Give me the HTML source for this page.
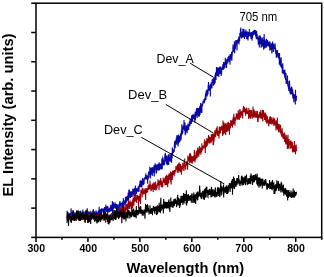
<!DOCTYPE html>
<html><head><meta charset="utf-8"><style>
html,body{margin:0;padding:0;background:#fff;}
svg{display:block;will-change:transform;}
text{font-family:"Liberation Sans",sans-serif;fill:#000;}
.tl{font-size:10.6px;font-weight:bold;}
.an{font-size:12.2px;}
.ax{font-size:14px;font-weight:bold;}
</style></head><body>
<svg width="324" height="277" viewBox="0 0 324 277">
<rect width="324" height="277" fill="#fff"/>
<g fill="none" stroke-linejoin="miter">
<polyline points="67.00,216.4 67.17,217.6 67.33,216.4 67.50,212.3 67.67,217.8 67.83,216.6 68.00,214.1 68.17,216.9 68.33,216.3 68.50,216.1 68.67,215.4 68.83,216.7 69.00,213.4 69.17,214.8 69.33,214.0 69.50,216.7 69.67,215.3 69.83,214.4 70.00,213.2 70.17,214.5 70.33,215.1 70.50,214.4 70.67,218.3 70.83,217.6 71.00,208.3 71.17,210.3 71.33,214.6 71.50,214.0 71.67,215.5 71.83,215.5 72.00,220.2 72.17,212.1 72.33,213.9 72.50,220.0 72.67,216.5 72.83,216.5 73.00,213.5 73.17,210.7 73.33,215.2 73.50,215.1 73.67,211.7 73.83,213.1 74.00,214.6 74.17,212.4 74.33,214.6 74.50,215.0 74.67,214.9 74.83,213.5 75.00,216.3 75.17,217.0 75.33,215.5 75.50,212.7 75.67,216.5 75.83,213.4 76.00,216.8 76.17,211.9 76.33,216.8 76.50,214.4 76.67,211.3 76.83,213.6 77.00,214.5 77.17,215.0 77.33,211.9 77.50,211.6 77.67,214.9 77.83,213.2 78.00,215.0 78.17,216.4 78.33,210.4 78.50,215.2 78.67,217.7 78.83,214.0 79.00,212.7 79.17,216.7 79.33,215.5 79.50,217.1 79.67,214.0 79.83,211.1 80.00,214.6 80.17,213.7 80.33,216.7 80.50,215.2 80.67,210.7 80.83,211.7 81.00,216.9 81.17,216.4 81.33,213.1 81.50,214.7 81.67,215.8 81.83,215.9 82.00,217.0 82.17,215.5 82.33,214.6 82.50,214.3 82.67,217.7 82.83,209.5 83.00,214.8 83.17,215.3 83.33,211.7 83.50,216.2 83.67,213.7 83.83,217.6 84.00,215.1 84.17,217.1 84.33,218.5 84.50,216.4 84.67,213.2 84.83,211.5 85.00,219.6 85.17,214.9 85.33,213.4 85.50,215.4 85.67,214.5 85.83,217.1 86.00,215.0 86.17,214.8 86.33,213.0 86.50,215.9 86.67,212.0 86.83,216.2 87.00,218.3 87.17,210.6 87.33,208.2 87.50,215.9 87.67,220.6 87.83,211.7 88.00,211.0 88.17,215.6 88.33,212.0 88.50,212.8 88.67,213.1 88.83,215.3 89.00,213.0 89.17,214.7 89.33,213.6 89.50,212.0 89.67,213.3 89.83,211.8 90.00,214.2 90.17,211.5 90.33,211.6 90.50,218.0 90.67,214.3 90.83,214.4 91.00,215.8 91.17,213.5 91.33,214.0 91.50,215.7 91.67,215.3 91.83,211.7 92.00,216.7 92.17,213.1 92.33,211.9 92.50,212.3 92.67,213.6 92.83,218.6 93.00,211.6 93.17,214.9 93.33,209.1 93.50,214.5 93.67,216.7 93.83,213.9 94.00,212.9 94.17,215.0 94.33,216.2 94.50,216.1 94.67,219.3 94.83,214.9 95.00,212.9 95.17,214.1 95.33,214.2 95.50,214.7 95.67,214.4 95.83,214.9 96.00,210.3 96.17,216.7 96.33,213.2 96.50,211.7 96.67,216.3 96.83,218.1 97.00,216.0 97.17,215.2 97.33,212.4 97.50,222.1 97.67,217.0 97.83,211.8 98.00,212.7 98.17,214.8 98.33,210.5 98.50,214.8 98.67,213.0 98.83,217.2 99.00,216.4 99.17,206.8 99.33,213.6 99.50,209.2 99.67,216.0 99.83,213.3 100.00,214.1 100.17,209.8 100.33,217.1 100.50,217.4 100.67,209.3 100.83,212.9 101.00,210.0 101.17,211.6 101.33,208.3 101.50,216.4 101.67,209.0 101.83,210.7 102.00,212.7 102.17,209.7 102.33,210.8 102.50,209.9 102.67,211.0 102.83,208.2 103.00,210.1 103.17,210.7 103.33,210.3 103.50,211.3 103.67,210.3 103.83,213.0 104.00,210.0 104.17,210.4 104.33,208.9 104.50,209.2 104.67,207.1 104.83,211.8 105.00,207.2 105.17,208.2 105.33,211.1 105.50,211.1 105.67,208.9 105.83,204.5 106.00,211.0 106.17,210.6 106.33,206.2 106.50,212.1 106.67,208.2 106.83,207.1 107.00,210.5 107.17,209.8 107.33,210.9 107.50,206.1 107.67,215.5 107.83,209.0 108.00,206.5 108.17,212.4 108.33,209.8 108.50,211.6 108.67,209.8 108.83,210.5 109.00,211.3 109.17,208.5 109.33,212.3 109.50,209.1 109.67,207.9 109.83,210.4 110.00,211.3 110.17,209.3 110.33,207.4 110.50,211.4 110.67,204.7 110.83,206.5 111.00,209.3 111.17,205.3 111.33,209.0 111.50,208.6 111.67,211.1 111.83,205.9 112.00,206.5 112.17,209.0 112.33,201.1 112.50,216.4 112.67,205.7 112.83,205.5 113.00,209.8 113.17,207.2 113.33,202.2 113.50,208.8 113.67,209.3 113.83,205.5 114.00,205.9 114.17,207.9 114.33,203.9 114.50,207.6 114.67,206.8 114.83,204.3 115.00,202.2 115.17,205.4 115.33,203.5 115.50,208.8 115.67,206.3 115.83,208.1 116.00,206.3 116.17,206.7 116.33,203.8 116.50,208.0 116.67,211.2 116.83,205.3 117.00,204.6 117.17,205.9 117.33,205.0 117.50,204.5 117.67,206.9 117.83,205.7 118.00,210.7 118.17,206.6 118.33,207.5 118.50,209.3 118.67,205.6 118.83,210.5 119.00,204.5 119.17,203.9 119.33,205.1 119.50,205.7 119.67,201.9 119.83,205.8 120.00,201.0 120.17,209.8 120.33,205.5 120.50,203.9 120.67,203.1 120.83,204.6 121.00,205.1 121.17,202.7 121.33,203.1 121.50,205.2 121.67,204.2 121.83,208.5 122.00,209.0 122.17,205.7 122.33,207.0 122.50,201.6 122.67,207.2 122.83,205.2 123.00,206.5 123.17,209.6 123.33,198.1 123.50,205.3 123.67,201.2 123.83,205.9 124.00,200.2 124.17,202.3 124.33,204.1 124.50,205.1 124.67,203.3 124.83,200.5 125.00,200.9 125.17,204.8 125.33,201.9 125.50,196.7 125.67,203.7 125.83,202.1 126.00,203.1 126.17,199.3 126.33,202.3 126.50,196.5 126.67,200.9 126.83,197.5 127.00,200.5 127.17,201.1 127.33,195.7 127.50,197.4 127.67,197.3 127.83,200.3 128.00,198.6 128.17,192.6 128.33,197.2 128.50,197.7 128.67,201.4 128.83,190.1 129.00,193.1 129.17,198.3 129.33,190.3 129.50,190.6 129.67,195.4 129.83,196.7 130.00,191.8 130.17,195.2 130.33,194.0 130.50,198.0 130.67,193.6 130.83,196.5 131.00,191.0 131.17,193.1 131.33,193.4 131.50,197.0 131.67,195.4 131.83,191.5 132.00,195.6 132.17,195.9 132.33,193.3 132.50,192.8 132.67,192.9 132.83,188.5 133.00,193.9 133.17,194.0 133.33,190.7 133.50,195.3 133.67,189.1 133.83,191.4 134.00,191.6 134.17,198.7 134.33,188.2 134.50,194.4 134.67,195.4 134.83,193.6 135.00,195.8 135.17,189.4 135.33,185.5 135.50,194.2 135.67,188.3 135.83,190.7 136.00,188.0 136.17,194.3 136.33,193.5 136.50,188.7 136.67,193.2 136.83,190.7 137.00,189.7 137.17,190.0 137.33,189.0 137.50,191.1 137.67,190.0 137.83,187.8 138.00,191.5 138.17,186.5 138.33,188.9 138.50,189.0 138.67,191.8 138.83,185.7 139.00,192.0 139.17,187.1 139.33,185.7 139.50,184.0 139.67,187.3 139.83,185.4 140.00,181.7 140.17,181.3 140.33,182.5 140.50,181.8 140.67,186.6 140.83,187.0 141.00,185.2 141.17,183.4 141.33,180.8 141.50,181.9 141.67,184.1 141.83,187.5 142.00,183.7 142.17,180.0 142.33,180.8 142.50,179.1 142.67,178.1 142.83,179.7 143.00,180.6 143.17,185.3 143.33,179.9 143.50,183.6 143.67,184.6 143.83,179.6 144.00,183.9 144.17,181.1 144.33,177.7 144.50,179.5 144.67,178.6 144.83,177.7 145.00,177.7 145.17,178.6 145.33,179.3 145.50,175.3 145.67,177.8 145.83,173.2 146.00,178.4 146.17,179.3 146.33,177.9 146.50,178.1 146.67,178.9 146.83,175.2 147.00,176.3 147.17,178.4 147.33,179.6 147.50,177.7 147.67,183.8 147.83,175.9 148.00,178.9 148.17,179.4 148.33,175.1 148.50,172.8 148.67,171.5 148.83,175.1 149.00,177.6 149.17,174.8 149.33,174.2 149.50,172.3 149.67,174.8 149.83,166.7 150.00,173.3 150.17,172.5 150.33,168.2 150.50,178.4 150.67,167.8 150.83,168.6 151.00,168.1 151.17,174.8 151.33,168.8 151.50,173.3 151.67,173.0 151.83,172.0 152.00,167.3 152.17,169.3 152.33,175.9 152.50,167.2 152.67,168.4 152.83,170.3 153.00,173.0 153.17,171.3 153.33,172.6 153.50,167.2 153.67,173.0 153.83,171.7 154.00,165.3 154.17,174.3 154.33,176.4 154.50,167.3 154.67,169.6 154.83,173.4 155.00,164.8 155.17,163.2 155.33,165.1 155.50,167.1 155.67,166.9 155.83,170.2 156.00,169.1 156.17,164.5 156.33,169.7 156.50,173.4 156.67,171.3 156.83,170.5 157.00,167.6 157.17,170.3 157.33,164.5 157.50,169.4 157.67,166.9 157.83,170.3 158.00,168.3 158.17,163.7 158.33,167.3 158.50,170.4 158.67,163.5 158.83,165.1 159.00,164.5 159.17,162.3 159.33,169.4 159.50,170.3 159.67,168.7 159.83,166.9 160.00,165.9 160.17,166.6 160.33,163.6 160.50,168.1 160.67,168.4 160.83,167.8 161.00,163.4 161.17,164.9 161.33,164.0 161.50,169.6 161.67,164.7 161.83,158.5 162.00,165.1 162.17,169.3 162.33,165.7 162.50,166.1 162.67,163.6 162.83,157.6 163.00,157.9 163.17,159.5 163.33,162.7 163.50,163.9 163.67,164.9 163.83,161.8 164.00,165.5 164.17,161.7 164.33,160.4 164.50,164.8 164.67,159.6 164.83,154.2 165.00,158.9 165.17,162.2 165.33,152.7 165.50,160.6 165.67,160.5 165.83,157.1 166.00,156.8 166.17,159.6 166.33,159.1 166.50,164.2 166.67,161.5 166.83,155.6 167.00,157.5 167.17,161.9 167.33,165.3 167.50,160.7 167.67,160.3 167.83,164.7 168.00,159.1 168.17,158.1 168.33,154.8 168.50,157.3 168.67,165.0 168.83,154.3 169.00,158.4 169.17,154.1 169.33,158.4 169.50,160.4 169.67,156.9 169.83,159.5 170.00,159.2 170.17,158.2 170.33,161.6 170.50,158.6 170.67,155.2 170.83,153.8 171.00,153.1 171.17,156.7 171.33,154.1 171.50,162.7 171.67,159.8 171.83,153.5 172.00,152.8 172.17,158.4 172.33,147.6 172.50,151.5 172.67,155.2 172.83,149.4 173.00,150.3 173.17,150.3 173.33,152.9 173.50,150.9 173.67,151.3 173.83,151.4 174.00,149.3 174.17,152.0 174.33,146.0 174.50,143.4 174.67,141.8 174.83,141.6 175.00,144.1 175.17,148.2 175.33,145.1 175.50,142.2 175.67,140.3 175.83,141.5 176.00,141.5 176.17,140.7 176.33,137.9 176.50,140.5 176.67,144.8 176.83,135.3 177.00,140.9 177.17,135.3 177.33,142.0 177.50,139.2 177.67,135.2 177.83,141.6 178.00,146.6 178.17,141.5 178.33,144.5 178.50,140.8 178.67,134.5 178.83,142.1 179.00,139.3 179.17,136.0 179.33,142.4 179.50,140.7 179.67,138.0 179.83,141.7 180.00,136.1 180.17,140.0 180.33,134.9 180.50,138.7 180.67,133.3 180.83,140.4 181.00,136.3 181.17,139.2 181.33,132.0 181.50,132.3 181.67,135.5 181.83,124.3 182.00,128.7 182.17,134.3 182.33,132.3 182.50,133.7 182.67,129.9 182.83,132.4 183.00,128.6 183.17,126.7 183.33,125.7 183.50,129.0 183.67,128.9 183.83,128.6 184.00,119.9 184.17,124.3 184.33,128.4 184.50,130.7 184.67,128.0 184.83,127.0 185.00,122.6 185.17,135.2 185.33,125.9 185.50,134.0 185.67,133.5 185.83,129.6 186.00,127.1 186.17,129.1 186.33,125.2 186.50,129.3 186.67,128.4 186.83,129.9 187.00,131.0 187.17,133.2 187.33,126.9 187.50,130.9 187.67,125.3 187.83,124.8 188.00,125.4 188.17,124.1 188.33,129.7 188.50,129.2 188.67,130.0 188.83,125.9 189.00,126.5 189.17,123.7 189.33,121.8 189.50,126.2 189.67,125.4 189.83,121.0 190.00,125.7 190.17,118.5 190.33,122.7 190.50,121.0 190.67,120.7 190.83,118.6 191.00,124.0 191.17,122.4 191.33,123.7 191.50,120.1 191.67,115.5 191.83,117.8 192.00,115.1 192.17,119.7 192.33,121.8 192.50,119.1 192.67,116.3 192.83,116.9 193.00,118.6 193.17,113.7 193.33,118.4 193.50,118.5 193.67,116.3 193.83,116.6 194.00,118.3 194.17,115.4 194.33,115.3 194.50,120.0 194.67,118.2 194.83,122.4 195.00,114.4 195.17,111.9 195.33,119.7 195.50,119.5 195.67,114.3 195.83,111.8 196.00,115.7 196.17,110.4 196.33,114.2 196.50,108.5 196.67,113.8 196.83,108.0 197.00,113.2 197.17,118.1 197.33,112.5 197.50,115.3 197.67,110.9 197.83,109.9 198.00,107.9 198.17,115.1 198.33,111.7 198.50,116.5 198.67,108.1 198.83,110.8 199.00,111.6 199.17,115.5 199.33,116.6 199.50,109.3 199.67,107.8 199.83,105.9 200.00,114.9 200.17,110.6 200.33,108.8 200.50,110.4 200.67,102.9 200.83,105.1 201.00,112.7 201.17,110.8 201.33,109.7 201.50,105.8 201.67,109.9 201.83,112.9 202.00,103.4 202.17,106.4 202.33,104.4 202.50,106.1 202.67,104.5 202.83,103.5 203.00,100.8 203.17,102.9 203.33,100.7 203.50,101.6 203.67,101.5 203.83,103.2 204.00,99.1 204.17,99.5 204.33,103.2 204.50,99.0 204.67,98.4 204.83,101.3 205.00,99.1 205.17,98.1 205.33,98.1 205.50,93.3 205.67,97.9 205.83,100.0 206.00,97.3 206.17,90.6 206.33,95.6 206.50,91.6 206.67,93.2 206.83,93.8 207.00,89.5 207.17,96.4 207.33,91.8 207.50,93.8 207.67,92.8 207.83,94.4 208.00,93.4 208.17,85.0 208.33,89.0 208.50,82.0 208.67,86.6 208.83,89.6 209.00,89.8 209.17,90.6 209.33,85.4 209.50,87.2 209.67,86.3 209.83,89.5 210.00,90.3 210.17,84.4 210.33,96.4 210.50,85.1 210.67,83.8 210.83,86.5 211.00,86.8 211.17,86.0 211.33,82.3 211.50,88.5 211.67,84.1 211.83,88.3 212.00,87.7 212.17,79.6 212.33,80.3 212.50,80.0 212.67,83.5 212.83,82.7 213.00,83.1 213.17,79.7 213.33,83.1 213.50,85.8 213.67,77.4 213.83,80.5 214.00,81.5 214.17,79.9 214.33,79.2 214.50,84.4 214.67,82.3 214.83,80.3 215.00,74.8 215.17,82.9 215.33,76.7 215.50,73.3 215.67,73.5 215.83,72.7 216.00,80.1 216.17,74.3 216.33,73.7 216.50,67.1 216.67,75.5 216.83,70.1 217.00,69.8 217.17,74.8 217.33,70.4 217.50,75.3 217.67,76.0 217.83,67.3 218.00,72.1 218.17,67.7 218.33,72.0 218.50,74.7 218.67,67.7 218.83,76.9 219.00,70.4 219.17,67.6 219.33,70.5 219.50,73.0 219.67,66.5 219.83,70.5 220.00,66.4 220.17,74.0 220.33,70.9 220.50,69.2 220.67,73.5 220.83,66.7 221.00,69.3 221.17,75.9 221.33,70.0 221.50,74.3 221.67,70.8 221.83,68.0 222.00,69.2 222.17,70.0 222.33,68.3 222.50,66.8 222.67,66.7 222.83,64.3 223.00,68.6 223.17,69.1 223.33,69.8 223.50,61.9 223.67,69.2 223.83,66.5 224.00,61.9 224.17,66.2 224.33,68.0 224.50,66.9 224.67,67.2 224.83,67.6 225.00,67.2 225.17,64.1 225.33,57.8 225.50,61.5 225.67,64.5 225.83,61.8 226.00,65.0 226.17,65.1 226.33,62.7 226.50,67.9 226.67,59.2 226.83,64.6 227.00,60.2 227.17,59.1 227.33,63.0 227.50,59.2 227.67,63.4 227.83,57.2 228.00,60.5 228.17,57.7 228.33,59.4 228.50,58.8 228.67,56.3 228.83,61.4 229.00,55.6 229.17,56.2 229.33,61.5 229.50,61.6 229.67,60.4 229.83,59.2 230.00,64.7 230.17,54.2 230.33,55.3 230.50,54.2 230.67,59.5 230.83,57.4 231.00,59.5 231.17,58.8 231.33,54.8 231.50,52.7 231.67,51.8 231.83,60.8 232.00,56.7 232.17,55.2 232.33,52.0 232.50,52.0 232.67,51.2 232.83,50.9 233.00,44.4 233.17,50.9 233.33,49.6 233.50,51.3 233.67,50.7 233.83,52.3 234.00,49.4 234.17,51.5 234.33,41.2 234.50,45.2 234.67,53.2 234.83,44.2 235.00,46.6 235.17,49.2 235.33,44.1 235.50,48.5 235.67,41.8 235.83,40.0 236.00,41.3 236.17,40.0 236.33,44.4 236.50,43.2 236.67,44.7 236.83,40.3 237.00,50.5 237.17,42.3 237.33,42.0 237.50,43.2 237.67,40.7 237.83,39.2 238.00,41.0 238.17,43.1 238.33,42.0 238.50,42.5 238.67,37.7 238.83,36.7 239.00,44.6 239.17,37.6 239.33,39.4 239.50,39.9 239.67,41.6 239.83,33.1 240.00,35.4 240.17,35.3 240.33,35.5 240.50,29.1 240.67,35.9 240.83,27.5 241.00,36.9 241.17,37.6 241.33,37.7 241.50,32.3 241.67,38.6 241.83,33.1 242.00,31.9 242.17,32.5 242.33,32.7 242.50,35.6 242.67,37.5 242.83,28.7 243.00,33.2 243.17,37.4 243.33,35.1 243.50,35.9 243.67,29.7 243.83,36.8 244.00,29.1 244.17,34.2 244.33,37.5 244.50,38.9 244.67,34.8 244.83,35.8 245.00,31.4 245.17,31.9 245.33,36.9 245.50,33.5 245.67,33.3 245.83,29.6 246.00,34.4 246.17,36.0 246.33,31.9 246.50,32.9 246.67,39.2 246.83,35.1 247.00,33.9 247.17,31.4 247.33,33.0 247.50,34.2 247.67,39.1 247.83,33.2 248.00,40.4 248.17,32.3 248.33,33.9 248.50,37.3 248.67,34.0 248.83,32.1 249.00,34.0 249.17,35.6 249.33,29.1 249.50,33.4 249.67,33.8 249.83,32.9 250.00,36.3 250.17,32.6 250.33,33.3 250.50,34.5 250.67,36.7 250.83,33.9 251.00,39.1 251.17,32.0 251.33,38.5 251.50,32.1 251.67,34.2 251.83,35.7 252.00,40.6 252.17,37.0 252.33,33.0 252.50,37.9 252.67,33.1 252.83,31.1 253.00,34.6 253.17,33.2 253.33,35.5 253.50,30.8 253.67,33.3 253.83,33.9 254.00,32.7 254.17,31.7 254.33,29.7 254.50,34.6 254.67,32.5 254.83,33.8 255.00,31.5 255.17,32.9 255.33,30.1 255.50,33.8 255.67,36.2 255.83,34.5 256.00,37.1 256.17,35.7 256.33,39.1 256.50,34.8 256.67,30.8 256.83,37.3 257.00,35.9 257.17,33.9 257.33,39.1 257.50,38.3 257.67,39.3 257.83,37.3 258.00,39.3 258.17,39.8 258.33,44.7 258.50,37.7 258.67,40.0 258.83,41.4 259.00,35.4 259.17,36.0 259.33,47.4 259.50,35.9 259.67,43.0 259.83,38.9 260.00,39.2 260.17,35.6 260.33,38.9 260.50,44.0 260.67,37.5 260.83,43.5 261.00,42.7 261.17,47.8 261.33,40.5 261.50,45.7 261.67,44.6 261.83,41.2 262.00,37.2 262.17,46.7 262.33,38.1 262.50,40.8 262.67,44.9 262.83,45.6 263.00,39.8 263.17,42.3 263.33,41.6 263.50,45.9 263.67,49.8 263.83,36.9 264.00,45.1 264.17,33.9 264.33,42.5 264.50,39.2 264.67,48.5 264.83,43.1 265.00,40.5 265.17,41.3 265.33,41.2 265.50,43.6 265.67,42.7 265.83,45.2 266.00,48.0 266.17,45.6 266.33,39.9 266.50,38.8 266.67,41.5 266.83,47.0 267.00,43.0 267.17,42.1 267.33,44.6 267.50,40.0 267.67,40.9 267.83,46.0 268.00,43.6 268.17,43.3 268.33,45.7 268.50,43.0 268.67,42.8 268.83,43.5 269.00,46.7 269.17,45.1 269.33,41.4 269.50,44.1 269.67,47.0 269.83,50.7 270.00,41.7 270.17,46.2 270.33,44.5 270.50,47.8 270.67,46.8 270.83,50.0 271.00,47.2 271.17,44.2 271.33,44.3 271.50,47.2 271.67,47.3 271.83,53.4 272.00,51.4 272.17,43.0 272.33,47.6 272.50,42.6 272.67,41.7 272.83,49.0 273.00,48.5 273.17,43.8 273.33,51.9 273.50,44.1 273.67,43.7 273.83,49.3 274.00,48.2 274.17,47.2 274.33,47.7 274.50,48.8 274.67,48.0 274.83,48.2 275.00,43.4 275.17,45.4 275.33,51.5 275.50,47.9 275.67,52.0 275.83,54.3 276.00,49.9 276.17,52.1 276.33,57.7 276.50,53.9 276.67,57.6 276.83,56.9 277.00,54.9 277.17,52.5 277.33,50.6 277.50,50.1 277.67,55.2 277.83,55.4 278.00,53.8 278.17,57.1 278.33,53.1 278.50,58.6 278.67,55.8 278.83,55.9 279.00,56.4 279.17,56.5 279.33,64.8 279.50,53.1 279.67,59.0 279.83,62.9 280.00,62.0 280.17,59.6 280.33,66.4 280.50,58.7 280.67,58.6 280.83,64.9 281.00,59.4 281.17,57.2 281.33,67.5 281.50,67.7 281.67,68.1 281.83,65.0 282.00,67.5 282.17,64.5 282.33,73.0 282.50,70.6 282.67,70.9 282.83,63.2 283.00,71.8 283.17,74.2 283.33,73.7 283.50,72.7 283.67,70.7 283.83,70.0 284.00,73.1 284.17,72.7 284.33,72.6 284.50,71.4 284.67,77.7 284.83,69.6 285.00,73.4 285.17,72.2 285.33,77.6 285.50,79.4 285.67,79.5 285.83,78.6 286.00,72.9 286.17,84.0 286.33,80.1 286.50,78.9 286.67,80.0 286.83,79.6 287.00,82.6 287.17,82.9 287.33,81.5 287.50,75.5 287.67,83.6 287.83,85.7 288.00,86.3 288.17,84.7 288.33,86.9 288.50,89.0 288.67,84.8 288.83,91.0 289.00,81.1 289.17,83.5 289.33,84.8 289.50,80.5 289.67,85.1 289.83,92.2 290.00,92.5 290.17,89.3 290.33,94.5 290.50,90.3 290.67,88.4 290.83,90.8 291.00,90.0 291.17,92.9 291.33,86.4 291.50,94.2 291.67,90.1 291.83,94.3 292.00,87.4 292.17,91.0 292.33,92.8 292.50,95.5 292.67,89.5 292.83,98.4 293.00,95.2 293.17,92.4 293.33,98.0 293.50,95.0 293.67,98.4 293.83,102.3 294.00,97.9 294.17,94.3 294.33,94.9 294.50,98.2 294.67,97.6 294.83,94.5 295.00,95.2 295.17,99.4 295.33,104.6 295.50,89.8 295.67,100.1 295.83,97.4 296.00,100.6 296.17,101.0 296.33,98.7 296.50,95.7" stroke="#0808a2" stroke-width="1.1"/><polyline points="67.00,218.9 67.17,217.8 67.33,217.9 67.50,214.7 67.67,221.4 67.83,220.4 68.00,218.0 68.17,219.7 68.33,218.9 68.50,217.5 68.67,220.0 68.83,217.9 69.00,217.8 69.17,217.0 69.33,219.0 69.50,218.0 69.67,219.0 69.83,217.0 70.00,218.1 70.17,216.4 70.33,219.1 70.50,218.0 70.67,218.1 70.83,218.2 71.00,215.9 71.17,218.7 71.33,220.8 71.50,214.8 71.67,214.7 71.83,215.1 72.00,218.9 72.17,217.8 72.33,219.4 72.50,218.9 72.67,218.1 72.83,218.3 73.00,217.6 73.17,219.4 73.33,216.1 73.50,217.3 73.67,218.4 73.83,221.0 74.00,216.8 74.17,216.2 74.33,217.0 74.50,219.5 74.67,217.4 74.83,219.9 75.00,214.6 75.17,219.4 75.33,219.2 75.50,215.1 75.67,217.6 75.83,219.2 76.00,217.3 76.17,218.8 76.33,221.0 76.50,217.5 76.67,216.5 76.83,215.7 77.00,218.0 77.17,216.6 77.33,216.6 77.50,216.7 77.67,218.0 77.83,215.1 78.00,214.4 78.17,212.9 78.33,218.8 78.50,217.0 78.67,219.4 78.83,216.8 79.00,215.6 79.17,217.7 79.33,216.8 79.50,214.8 79.67,215.5 79.83,219.9 80.00,217.6 80.17,217.7 80.33,216.6 80.50,216.0 80.67,218.7 80.83,217.1 81.00,216.0 81.17,217.1 81.33,215.9 81.50,217.8 81.67,219.4 81.83,216.2 82.00,220.0 82.17,216.6 82.33,218.0 82.50,216.4 82.67,217.5 82.83,218.0 83.00,217.2 83.17,216.8 83.33,216.8 83.50,216.6 83.67,215.3 83.83,217.4 84.00,218.5 84.17,219.3 84.33,218.8 84.50,221.8 84.67,218.1 84.83,216.8 85.00,220.6 85.17,215.6 85.33,218.9 85.50,215.6 85.67,217.7 85.83,213.7 86.00,218.5 86.17,216.6 86.33,215.1 86.50,219.5 86.67,218.0 86.83,216.7 87.00,215.3 87.17,216.5 87.33,216.3 87.50,217.8 87.67,218.0 87.83,215.5 88.00,215.7 88.17,215.8 88.33,214.4 88.50,215.6 88.67,216.5 88.83,217.8 89.00,218.8 89.17,215.2 89.33,217.4 89.50,215.7 89.67,219.9 89.83,216.2 90.00,217.1 90.17,214.6 90.33,214.8 90.50,216.5 90.67,215.5 90.83,216.8 91.00,213.6 91.17,217.4 91.33,214.7 91.50,219.3 91.67,215.9 91.83,218.3 92.00,214.1 92.17,217.2 92.33,215.0 92.50,215.7 92.67,216.6 92.83,216.0 93.00,217.0 93.17,217.9 93.33,217.7 93.50,216.4 93.67,214.2 93.83,215.2 94.00,216.3 94.17,213.0 94.33,218.0 94.50,216.4 94.67,216.4 94.83,218.5 95.00,218.1 95.17,217.5 95.33,215.4 95.50,217.8 95.67,217.9 95.83,215.9 96.00,219.3 96.17,218.5 96.33,214.3 96.50,218.0 96.67,215.7 96.83,219.9 97.00,219.4 97.17,216.1 97.33,216.5 97.50,218.2 97.67,217.6 97.83,220.7 98.00,219.3 98.17,217.4 98.33,218.8 98.50,214.2 98.67,218.1 98.83,219.0 99.00,217.1 99.17,216.0 99.33,218.2 99.50,220.5 99.67,217.4 99.83,215.0 100.00,219.4 100.17,213.6 100.33,217.8 100.50,215.9 100.67,218.5 100.83,215.4 101.00,219.2 101.17,217.4 101.33,213.8 101.50,213.3 101.67,216.2 101.83,219.0 102.00,216.9 102.17,216.7 102.33,216.1 102.50,217.8 102.67,217.1 102.83,216.9 103.00,214.6 103.17,218.4 103.33,218.8 103.50,214.1 103.67,220.5 103.83,217.8 104.00,215.7 104.17,213.3 104.33,218.0 104.50,217.9 104.67,216.0 104.83,214.1 105.00,219.3 105.17,216.4 105.33,216.8 105.50,222.8 105.67,221.6 105.83,219.6 106.00,217.2 106.17,219.2 106.33,214.1 106.50,218.3 106.67,216.8 106.83,215.9 107.00,215.4 107.17,219.2 107.33,218.4 107.50,218.6 107.67,219.8 107.83,216.8 108.00,216.1 108.17,215.1 108.33,217.6 108.50,219.5 108.67,217.8 108.83,219.2 109.00,215.9 109.17,217.1 109.33,216.5 109.50,215.5 109.67,221.0 109.83,219.1 110.00,216.1 110.17,216.0 110.33,217.1 110.50,214.5 110.67,217.7 110.83,214.5 111.00,216.0 111.17,214.6 111.33,215.5 111.50,213.8 111.67,213.2 111.83,214.1 112.00,214.5 112.17,215.1 112.33,215.7 112.50,218.3 112.67,216.9 112.83,214.9 113.00,216.7 113.17,214.0 113.33,218.0 113.50,216.3 113.67,212.6 113.83,216.6 114.00,216.7 114.17,210.0 114.33,213.7 114.50,214.2 114.67,211.3 114.83,212.9 115.00,213.1 115.17,215.9 115.33,215.4 115.50,220.1 115.67,213.9 115.83,217.0 116.00,214.7 116.17,215.1 116.33,212.1 116.50,210.5 116.67,212.8 116.83,216.0 117.00,217.7 117.17,215.7 117.33,215.5 117.50,212.6 117.67,217.7 117.83,217.3 118.00,213.2 118.17,214.3 118.33,212.1 118.50,217.4 118.67,215.0 118.83,213.7 119.00,214.7 119.17,214.6 119.33,212.4 119.50,210.3 119.67,210.0 119.83,208.7 120.00,213.4 120.17,217.2 120.33,208.0 120.50,212.0 120.67,212.5 120.83,209.1 121.00,211.7 121.17,208.5 121.33,213.9 121.50,209.6 121.67,211.2 121.83,212.6 122.00,210.0 122.17,206.7 122.33,209.7 122.50,212.9 122.67,210.9 122.83,211.6 123.00,208.3 123.17,211.3 123.33,212.7 123.50,210.9 123.67,215.4 123.83,210.0 124.00,207.7 124.17,206.0 124.33,212.9 124.50,209.5 124.67,212.1 124.83,210.4 125.00,213.2 125.17,212.0 125.33,207.5 125.50,209.0 125.67,210.9 125.83,204.6 126.00,211.5 126.17,210.7 126.33,209.9 126.50,206.6 126.67,207.8 126.83,203.9 127.00,207.0 127.17,205.1 127.33,206.9 127.50,205.2 127.67,207.3 127.83,209.8 128.00,202.8 128.17,209.0 128.33,200.8 128.50,200.2 128.67,205.9 128.83,206.1 129.00,207.2 129.17,201.2 129.33,205.5 129.50,205.9 129.67,209.0 129.83,205.0 130.00,206.6 130.17,202.1 130.33,204.3 130.50,203.4 130.67,206.5 130.83,201.5 131.00,201.8 131.17,205.7 131.33,209.1 131.50,204.9 131.67,204.5 131.83,202.5 132.00,206.5 132.17,204.7 132.33,208.0 132.50,203.8 132.67,199.9 132.83,200.8 133.00,199.3 133.17,198.4 133.33,205.4 133.50,203.9 133.67,197.7 133.83,206.3 134.00,201.6 134.17,197.9 134.33,201.6 134.50,200.0 134.67,197.8 134.83,194.2 135.00,199.8 135.17,200.4 135.33,192.0 135.50,200.9 135.67,201.0 135.83,197.8 136.00,199.5 136.17,198.3 136.33,196.7 136.50,198.0 136.67,203.0 136.83,194.9 137.00,199.8 137.17,199.6 137.33,197.0 137.50,197.8 137.67,194.9 137.83,196.5 138.00,198.9 138.17,199.7 138.33,196.0 138.50,207.4 138.67,196.7 138.83,198.5 139.00,197.3 139.17,196.6 139.33,201.4 139.50,196.0 139.67,201.0 139.83,200.3 140.00,193.7 140.17,199.5 140.33,194.3 140.50,203.9 140.67,194.6 140.83,192.7 141.00,189.6 141.17,191.1 141.33,192.9 141.50,191.4 141.67,190.4 141.83,191.7 142.00,192.9 142.17,197.5 142.33,188.1 142.50,191.3 142.67,190.0 142.83,188.2 143.00,188.9 143.17,189.8 143.33,194.5 143.50,191.8 143.67,190.7 143.83,194.0 144.00,192.9 144.17,191.4 144.33,193.1 144.50,189.5 144.67,193.6 144.83,193.1 145.00,190.4 145.17,188.0 145.33,195.9 145.50,191.6 145.67,200.1 145.83,189.3 146.00,193.5 146.17,189.6 146.33,191.5 146.50,193.0 146.67,188.1 146.83,189.9 147.00,190.5 147.17,190.1 147.33,191.3 147.50,192.3 147.67,191.5 147.83,189.6 148.00,187.7 148.17,185.2 148.33,186.2 148.50,186.6 148.67,190.0 148.83,186.8 149.00,184.2 149.17,189.6 149.33,185.4 149.50,185.4 149.67,186.9 149.83,188.9 150.00,180.5 150.17,184.2 150.33,187.9 150.50,186.3 150.67,184.8 150.83,185.7 151.00,191.2 151.17,185.8 151.33,189.1 151.50,189.3 151.67,185.7 151.83,188.2 152.00,185.6 152.17,185.1 152.33,183.6 152.50,189.4 152.67,185.7 152.83,185.3 153.00,183.6 153.17,192.1 153.33,189.0 153.50,186.4 153.67,184.7 153.83,182.3 154.00,187.5 154.17,187.5 154.33,182.5 154.50,189.9 154.67,188.8 154.83,183.7 155.00,184.8 155.17,185.1 155.33,186.8 155.50,185.9 155.67,181.4 155.83,190.5 156.00,187.0 156.17,189.7 156.33,189.6 156.50,185.3 156.67,186.8 156.83,187.9 157.00,187.9 157.17,185.1 157.33,183.7 157.50,185.6 157.67,183.1 157.83,183.7 158.00,179.3 158.17,185.4 158.33,182.1 158.50,183.4 158.67,184.8 158.83,185.7 159.00,190.2 159.17,185.2 159.33,180.3 159.50,184.7 159.67,182.5 159.83,185.2 160.00,182.0 160.17,181.8 160.33,182.2 160.50,181.8 160.67,178.1 160.83,181.4 161.00,183.2 161.17,186.7 161.33,182.2 161.50,181.9 161.67,184.6 161.83,184.4 162.00,187.5 162.17,184.4 162.33,182.6 162.50,186.5 162.67,187.0 162.83,181.1 163.00,182.8 163.17,177.4 163.33,181.2 163.50,179.6 163.67,181.5 163.83,180.6 164.00,181.4 164.17,181.5 164.33,183.2 164.50,182.4 164.67,180.0 164.83,177.8 165.00,185.1 165.17,185.5 165.33,180.0 165.50,182.8 165.67,176.6 165.83,176.4 166.00,180.1 166.17,185.0 166.33,177.6 166.50,178.0 166.67,185.0 166.83,174.7 167.00,182.0 167.17,181.4 167.33,179.2 167.50,180.2 167.67,187.2 167.83,176.1 168.00,178.4 168.17,178.5 168.33,177.0 168.50,175.0 168.67,183.5 168.83,179.3 169.00,173.4 169.17,176.3 169.33,179.4 169.50,179.2 169.67,173.7 169.83,177.5 170.00,178.3 170.17,178.5 170.33,178.3 170.50,171.6 170.67,182.1 170.83,177.2 171.00,181.6 171.17,184.5 171.33,175.5 171.50,172.2 171.67,178.1 171.83,174.9 172.00,173.9 172.17,172.1 172.33,179.9 172.50,173.5 172.67,170.5 172.83,173.1 173.00,170.8 173.17,174.5 173.33,172.6 173.50,170.5 173.67,175.1 173.83,171.2 174.00,174.9 174.17,176.2 174.33,171.1 174.50,170.0 174.67,172.2 174.83,173.9 175.00,171.0 175.17,171.1 175.33,170.3 175.50,171.0 175.67,171.6 175.83,167.4 176.00,167.7 176.17,168.9 176.33,166.6 176.50,168.7 176.67,169.6 176.83,167.8 177.00,166.0 177.17,165.3 177.33,172.6 177.50,170.0 177.67,164.2 177.83,165.0 178.00,173.0 178.17,171.9 178.33,167.9 178.50,171.0 178.67,163.3 178.83,167.7 179.00,169.9 179.17,162.4 179.33,165.5 179.50,170.1 179.67,171.2 179.83,166.1 180.00,168.7 180.17,172.6 180.33,166.8 180.50,164.0 180.67,167.7 180.83,166.7 181.00,171.6 181.17,168.3 181.33,165.4 181.50,174.8 181.67,166.2 181.83,169.0 182.00,169.5 182.17,169.7 182.33,167.8 182.50,168.9 182.67,166.9 182.83,162.8 183.00,166.2 183.17,166.2 183.33,166.1 183.50,166.9 183.67,164.6 183.83,170.3 184.00,170.9 184.17,159.8 184.33,166.3 184.50,164.1 184.67,158.5 184.83,167.3 185.00,164.2 185.17,164.8 185.33,163.8 185.50,168.7 185.67,168.9 185.83,165.9 186.00,166.8 186.17,164.1 186.33,164.6 186.50,161.7 186.67,163.6 186.83,161.1 187.00,164.0 187.17,165.1 187.33,163.3 187.50,165.6 187.67,169.8 187.83,155.5 188.00,161.6 188.17,159.7 188.33,159.8 188.50,157.0 188.67,161.0 188.83,160.0 189.00,158.8 189.17,159.8 189.33,158.7 189.50,153.5 189.67,163.4 189.83,159.3 190.00,157.3 190.17,160.9 190.33,157.9 190.50,153.3 190.67,162.2 190.83,154.5 191.00,158.7 191.17,159.6 191.33,163.0 191.50,162.4 191.67,159.3 191.83,156.4 192.00,157.3 192.17,161.6 192.33,163.6 192.50,159.8 192.67,156.2 192.83,161.0 193.00,156.8 193.17,156.6 193.33,156.9 193.50,159.4 193.67,158.3 193.83,160.3 194.00,161.1 194.17,158.6 194.33,150.1 194.50,151.8 194.67,157.1 194.83,156.2 195.00,162.6 195.17,156.0 195.33,155.4 195.50,158.5 195.67,158.7 195.83,154.7 196.00,156.6 196.17,151.7 196.33,152.1 196.50,158.4 196.67,150.5 196.83,157.2 197.00,156.3 197.17,156.5 197.33,156.8 197.50,155.6 197.67,147.6 197.83,150.8 198.00,151.8 198.17,156.2 198.33,150.0 198.50,151.1 198.67,152.0 198.83,156.7 199.00,148.5 199.17,148.5 199.33,154.2 199.50,145.9 199.67,152.9 199.83,150.4 200.00,146.9 200.17,150.1 200.33,148.2 200.50,151.4 200.67,151.7 200.83,154.8 201.00,150.1 201.17,150.2 201.33,148.0 201.50,149.3 201.67,152.2 201.83,143.2 202.00,150.5 202.17,146.8 202.33,148.3 202.50,148.8 202.67,150.1 202.83,148.0 203.00,145.9 203.17,147.7 203.33,146.6 203.50,145.7 203.67,146.7 203.83,148.4 204.00,146.0 204.17,145.8 204.33,141.4 204.50,144.6 204.67,139.3 204.83,146.8 205.00,141.7 205.17,148.2 205.33,153.0 205.50,142.9 205.67,147.8 205.83,144.9 206.00,141.9 206.17,140.9 206.33,144.8 206.50,147.0 206.67,143.7 206.83,138.0 207.00,139.1 207.17,141.3 207.33,145.7 207.50,142.2 207.67,142.1 207.83,144.5 208.00,140.1 208.17,140.3 208.33,139.8 208.50,135.0 208.67,141.4 208.83,141.2 209.00,142.7 209.17,136.3 209.33,137.3 209.50,142.4 209.67,140.6 209.83,143.7 210.00,137.0 210.17,140.1 210.33,137.5 210.50,140.4 210.67,138.0 210.83,141.0 211.00,142.6 211.17,141.3 211.33,134.0 211.50,142.0 211.67,140.5 211.83,136.0 212.00,136.3 212.17,138.9 212.33,140.4 212.50,137.3 212.67,133.7 212.83,139.1 213.00,138.6 213.17,145.2 213.33,134.0 213.50,145.0 213.67,142.4 213.83,137.9 214.00,141.6 214.17,136.6 214.33,138.9 214.50,133.5 214.67,135.6 214.83,132.0 215.00,130.1 215.17,133.6 215.33,132.2 215.50,135.5 215.67,137.3 215.83,132.8 216.00,133.3 216.17,133.6 216.33,127.9 216.50,133.5 216.67,132.6 216.83,132.3 217.00,129.0 217.17,126.3 217.33,131.3 217.50,132.8 217.67,135.7 217.83,135.0 218.00,135.8 218.17,132.4 218.33,134.6 218.50,130.4 218.67,132.7 218.83,133.4 219.00,138.4 219.17,131.0 219.33,126.4 219.50,134.0 219.67,127.5 219.83,129.5 220.00,128.6 220.17,126.7 220.33,133.2 220.50,131.0 220.67,127.3 220.83,129.3 221.00,127.7 221.17,130.8 221.33,127.8 221.50,126.7 221.67,127.0 221.83,127.7 222.00,129.8 222.17,126.3 222.33,128.8 222.50,130.4 222.67,136.1 222.83,131.8 223.00,120.5 223.17,127.8 223.33,128.2 223.50,130.4 223.67,134.1 223.83,131.6 224.00,122.6 224.17,130.3 224.33,129.6 224.50,130.4 224.67,133.1 224.83,125.8 225.00,132.1 225.17,123.8 225.33,128.7 225.50,129.5 225.67,135.0 225.83,126.0 226.00,122.9 226.17,129.8 226.33,125.7 226.50,132.1 226.67,125.3 226.83,124.7 227.00,130.8 227.17,127.3 227.33,129.9 227.50,122.6 227.67,131.6 227.83,124.9 228.00,129.0 228.17,123.5 228.33,121.8 228.50,125.5 228.67,126.6 228.83,130.7 229.00,126.9 229.17,127.9 229.33,127.6 229.50,134.7 229.67,123.0 229.83,129.0 230.00,124.7 230.17,125.7 230.33,123.1 230.50,128.0 230.67,120.6 230.83,120.2 231.00,123.3 231.17,120.2 231.33,125.5 231.50,125.9 231.67,120.7 231.83,125.1 232.00,120.6 232.17,122.2 232.33,122.2 232.50,127.6 232.67,121.9 232.83,119.0 233.00,118.9 233.17,125.1 233.33,116.5 233.50,119.9 233.67,120.1 233.83,113.8 234.00,119.5 234.17,123.7 234.33,121.3 234.50,117.7 234.67,122.2 234.83,121.5 235.00,125.7 235.17,117.3 235.33,118.1 235.50,119.1 235.67,118.3 235.83,118.8 236.00,118.0 236.17,116.1 236.33,113.2 236.50,116.1 236.67,113.5 236.83,114.4 237.00,115.8 237.17,118.8 237.33,119.7 237.50,114.0 237.67,117.9 237.83,119.3 238.00,116.7 238.17,111.8 238.33,110.2 238.50,118.7 238.67,118.9 238.83,116.9 239.00,112.7 239.17,120.0 239.33,119.0 239.50,115.1 239.67,114.3 239.83,108.9 240.00,116.7 240.17,109.5 240.33,116.0 240.50,115.9 240.67,113.8 240.83,117.9 241.00,112.0 241.17,114.5 241.33,114.9 241.50,113.0 241.67,110.9 241.83,115.7 242.00,113.2 242.17,111.3 242.33,111.3 242.50,112.1 242.67,118.4 242.83,111.9 243.00,110.9 243.17,108.4 243.33,107.9 243.50,105.9 243.67,112.2 243.83,111.6 244.00,108.4 244.17,107.1 244.33,110.5 244.50,109.9 244.67,107.6 244.83,112.4 245.00,112.0 245.17,111.5 245.33,114.0 245.50,109.8 245.67,115.8 245.83,108.8 246.00,113.4 246.17,113.8 246.33,111.2 246.50,113.1 246.67,108.3 246.83,107.7 247.00,111.6 247.17,110.1 247.33,114.1 247.50,112.4 247.67,114.2 247.83,113.4 248.00,113.1 248.17,112.9 248.33,111.6 248.50,111.4 248.67,118.9 248.83,107.8 249.00,112.6 249.17,116.3 249.33,114.7 249.50,117.8 249.67,115.4 249.83,110.2 250.00,113.1 250.17,110.0 250.33,117.3 250.50,118.7 250.67,113.2 250.83,116.2 251.00,113.5 251.17,110.5 251.33,113.5 251.50,110.1 251.67,113.2 251.83,115.5 252.00,117.1 252.17,118.8 252.33,114.0 252.50,115.7 252.67,116.3 252.83,116.7 253.00,106.6 253.17,112.8 253.33,117.5 253.50,111.8 253.67,115.9 253.83,117.6 254.00,109.5 254.17,114.6 254.33,115.9 254.50,115.2 254.67,110.7 254.83,116.3 255.00,113.6 255.17,117.7 255.33,116.6 255.50,113.7 255.67,115.9 255.83,113.3 256.00,113.3 256.17,110.7 256.33,114.7 256.50,117.8 256.67,115.8 256.83,115.4 257.00,113.6 257.17,114.0 257.33,117.8 257.50,111.1 257.67,121.8 257.83,115.4 258.00,122.1 258.17,119.2 258.33,114.5 258.50,117.9 258.67,116.5 258.83,117.2 259.00,118.2 259.17,114.2 259.33,114.1 259.50,114.7 259.67,111.9 259.83,115.2 260.00,116.7 260.17,116.8 260.33,116.6 260.50,114.9 260.67,118.4 260.83,109.9 261.00,114.9 261.17,115.1 261.33,118.7 261.50,118.0 261.67,118.4 261.83,116.1 262.00,118.8 262.17,113.0 262.33,116.2 262.50,109.8 262.67,121.2 262.83,120.9 263.00,114.4 263.17,113.7 263.33,110.1 263.50,111.9 263.67,117.0 263.83,116.3 264.00,112.6 264.17,115.7 264.33,115.4 264.50,119.0 264.67,120.0 264.83,117.5 265.00,118.7 265.17,118.6 265.33,112.6 265.50,119.6 265.67,119.0 265.83,121.7 266.00,114.1 266.17,122.0 266.33,118.0 266.50,120.8 266.67,123.7 266.83,115.8 267.00,116.3 267.17,123.2 267.33,116.9 267.50,117.4 267.67,122.0 267.83,119.6 268.00,122.4 268.17,120.9 268.33,119.9 268.50,122.8 268.67,126.3 268.83,119.4 269.00,124.1 269.17,123.0 269.33,119.9 269.50,120.9 269.67,116.8 269.83,117.8 270.00,120.5 270.17,119.7 270.33,123.8 270.50,116.2 270.67,119.3 270.83,118.5 271.00,120.1 271.17,124.2 271.33,117.3 271.50,123.6 271.67,119.5 271.83,120.4 272.00,124.5 272.17,120.8 272.33,123.8 272.50,122.3 272.67,121.6 272.83,121.1 273.00,117.2 273.17,120.2 273.33,123.1 273.50,123.3 273.67,118.4 273.83,125.9 274.00,124.8 274.17,119.3 274.33,120.2 274.50,125.0 274.67,118.3 274.83,121.5 275.00,123.7 275.17,123.6 275.33,123.9 275.50,125.4 275.67,121.9 275.83,122.9 276.00,130.6 276.17,120.4 276.33,123.3 276.50,125.1 276.67,122.9 276.83,128.6 277.00,125.3 277.17,127.5 277.33,117.5 277.50,129.0 277.67,129.1 277.83,123.6 278.00,130.0 278.17,127.1 278.33,129.3 278.50,132.2 278.67,127.3 278.83,124.2 279.00,127.5 279.17,124.0 279.33,125.6 279.50,126.0 279.67,126.4 279.83,132.2 280.00,131.5 280.17,126.6 280.33,132.9 280.50,124.8 280.67,128.2 280.83,130.1 281.00,134.4 281.17,133.3 281.33,132.9 281.50,135.8 281.67,134.4 281.83,136.7 282.00,130.6 282.17,128.2 282.33,132.3 282.50,136.4 282.67,135.0 282.83,137.2 283.00,136.9 283.17,136.6 283.33,137.8 283.50,133.5 283.67,139.2 283.83,133.2 284.00,136.2 284.17,132.6 284.33,138.7 284.50,132.8 284.67,142.0 284.83,134.1 285.00,139.3 285.17,138.4 285.33,136.6 285.50,143.3 285.67,138.5 285.83,144.5 286.00,137.3 286.17,138.2 286.33,134.9 286.50,142.8 286.67,144.1 286.83,142.2 287.00,141.2 287.17,139.1 287.33,149.0 287.50,144.4 287.67,136.7 287.83,141.4 288.00,134.7 288.17,147.3 288.33,148.6 288.50,147.2 288.67,142.8 288.83,141.3 289.00,138.9 289.17,144.9 289.33,141.2 289.50,142.4 289.67,141.7 289.83,142.9 290.00,146.6 290.17,149.1 290.33,144.7 290.50,144.4 290.67,141.2 290.83,141.0 291.00,141.6 291.17,147.6 291.33,145.9 291.50,148.2 291.67,146.7 291.83,144.4 292.00,142.0 292.17,144.8 292.33,141.7 292.50,152.2 292.67,147.1 292.83,145.3 293.00,152.6 293.17,145.5 293.33,148.5 293.50,146.4 293.67,148.1 293.83,146.1 294.00,148.8 294.17,151.7 294.33,143.8 294.50,141.0 294.67,152.0 294.83,148.6 295.00,150.9 295.17,147.5 295.33,153.3 295.50,154.3 295.67,145.4 295.83,151.2 296.00,147.4 296.17,144.5 296.33,148.6 296.50,151.3" stroke="#980008" stroke-width="1.1"/><polyline points="67.00,222.7 67.17,210.8 67.33,218.5 67.50,215.9 67.67,216.1 67.83,216.7 68.00,212.0 68.17,216.6 68.33,215.0 68.50,225.9 68.67,217.8 68.83,216.3 69.00,216.6 69.17,215.6 69.33,214.6 69.50,216.4 69.67,218.8 69.83,216.9 70.00,220.1 70.17,217.1 70.33,217.8 70.50,221.8 70.67,219.2 70.83,216.5 71.00,217.4 71.17,219.3 71.33,223.0 71.50,217.3 71.67,217.3 71.83,220.6 72.00,215.6 72.17,217.1 72.33,220.2 72.50,219.3 72.67,218.0 72.83,219.4 73.00,210.1 73.17,220.2 73.33,214.9 73.50,212.9 73.67,218.0 73.83,219.1 74.00,216.0 74.17,214.4 74.33,217.3 74.50,217.1 74.67,220.9 74.83,219.2 75.00,217.8 75.17,220.2 75.33,216.7 75.50,214.8 75.67,218.8 75.83,218.8 76.00,216.7 76.17,215.1 76.33,217.8 76.50,210.5 76.67,218.8 76.83,218.2 77.00,212.5 77.17,216.9 77.33,214.1 77.50,218.7 77.67,211.2 77.83,214.1 78.00,218.4 78.17,219.6 78.33,210.8 78.50,215.2 78.67,217.5 78.83,215.0 79.00,220.9 79.17,213.5 79.33,217.6 79.50,213.8 79.67,220.4 79.83,216.5 80.00,215.6 80.17,211.9 80.33,220.9 80.50,218.4 80.67,218.3 80.83,219.3 81.00,217.1 81.17,214.4 81.33,213.9 81.50,213.9 81.67,219.8 81.83,212.2 82.00,214.5 82.17,215.3 82.33,216.8 82.50,217.8 82.67,213.0 82.83,211.8 83.00,216.5 83.17,219.8 83.33,218.6 83.50,217.2 83.67,215.8 83.83,217.4 84.00,215.9 84.17,218.8 84.33,214.3 84.50,216.8 84.67,216.0 84.83,217.7 85.00,216.8 85.17,223.0 85.33,220.1 85.50,220.0 85.67,210.4 85.83,215.0 86.00,214.3 86.17,217.4 86.33,209.8 86.50,219.3 86.67,219.2 86.83,212.9 87.00,213.9 87.17,214.6 87.33,217.1 87.50,218.9 87.67,222.9 87.83,217.0 88.00,219.8 88.17,218.3 88.33,222.8 88.50,220.1 88.67,221.9 88.83,215.2 89.00,217.6 89.17,215.9 89.33,222.1 89.50,219.7 89.67,216.9 89.83,216.4 90.00,218.8 90.17,215.5 90.33,214.7 90.50,218.5 90.67,223.9 90.83,216.5 91.00,215.6 91.17,213.9 91.33,213.5 91.50,218.7 91.67,219.7 91.83,217.4 92.00,218.4 92.17,217.8 92.33,217.9 92.50,213.4 92.67,216.3 92.83,217.9 93.00,215.4 93.17,216.2 93.33,215.1 93.50,216.4 93.67,219.6 93.83,216.1 94.00,216.7 94.17,219.3 94.33,218.8 94.50,221.7 94.67,211.2 94.83,219.4 95.00,215.7 95.17,217.4 95.33,219.3 95.50,220.0 95.67,219.9 95.83,217.5 96.00,221.5 96.17,216.3 96.33,216.7 96.50,219.4 96.67,215.6 96.83,223.2 97.00,220.1 97.17,223.4 97.33,217.3 97.50,216.4 97.67,218.0 97.83,219.6 98.00,216.0 98.17,218.7 98.33,217.6 98.50,222.2 98.67,215.9 98.83,220.6 99.00,215.9 99.17,215.0 99.33,215.7 99.50,214.3 99.67,218.0 99.83,220.4 100.00,218.0 100.17,219.2 100.33,222.1 100.50,218.2 100.67,218.0 100.83,216.7 101.00,212.9 101.17,219.5 101.33,212.5 101.50,219.2 101.67,217.3 101.83,220.5 102.00,217.1 102.17,215.0 102.33,218.3 102.50,215.6 102.67,216.7 102.83,217.3 103.00,216.7 103.17,216.5 103.33,214.7 103.50,216.4 103.67,210.9 103.83,216.5 104.00,213.5 104.17,220.0 104.33,220.4 104.50,211.3 104.67,217.2 104.83,216.5 105.00,213.9 105.17,218.3 105.33,215.5 105.50,211.9 105.67,216.1 105.83,216.5 106.00,217.2 106.17,213.4 106.33,218.6 106.50,219.0 106.67,213.7 106.83,215.1 107.00,216.7 107.17,215.4 107.33,222.0 107.50,217.7 107.67,214.3 107.83,215.0 108.00,217.2 108.17,224.0 108.33,217.1 108.50,218.0 108.67,219.2 108.83,217.7 109.00,224.4 109.17,216.4 109.33,220.1 109.50,218.4 109.67,219.6 109.83,214.5 110.00,222.8 110.17,217.3 110.33,217.6 110.50,214.7 110.67,215.2 110.83,218.8 111.00,219.9 111.17,219.1 111.33,220.3 111.50,218.7 111.67,216.7 111.83,218.9 112.00,218.1 112.17,216.0 112.33,218.2 112.50,219.7 112.67,216.6 112.83,214.8 113.00,217.8 113.17,221.1 113.33,214.9 113.50,215.2 113.67,215.0 113.83,218.8 114.00,210.0 114.17,216.2 114.33,218.5 114.50,212.7 114.67,219.3 114.83,216.5 115.00,213.3 115.17,215.4 115.33,210.3 115.50,213.0 115.67,219.8 115.83,211.9 116.00,219.7 116.17,214.1 116.33,217.2 116.50,214.4 116.67,207.8 116.83,212.7 117.00,214.9 117.17,211.1 117.33,210.5 117.50,215.5 117.67,212.6 117.83,209.7 118.00,212.6 118.17,217.2 118.33,213.4 118.50,217.5 118.67,219.2 118.83,215.0 119.00,211.7 119.17,211.2 119.33,215.0 119.50,217.6 119.67,215.9 119.83,216.7 120.00,213.9 120.17,216.1 120.33,213.8 120.50,214.2 120.67,211.4 120.83,210.5 121.00,213.6 121.17,211.8 121.33,212.2 121.50,216.9 121.67,214.5 121.83,223.3 122.00,217.5 122.17,212.9 122.33,217.0 122.50,215.8 122.67,212.8 122.83,218.0 123.00,212.5 123.17,205.9 123.33,217.1 123.50,213.1 123.67,219.2 123.83,213.0 124.00,211.5 124.17,219.5 124.33,211.8 124.50,215.5 124.67,219.2 124.83,215.3 125.00,214.7 125.17,215.1 125.33,217.3 125.50,212.4 125.67,216.5 125.83,216.3 126.00,221.4 126.17,213.6 126.33,211.8 126.50,216.6 126.67,213.2 126.83,215.2 127.00,214.7 127.17,217.7 127.33,212.2 127.50,213.8 127.67,206.5 127.83,211.3 128.00,218.4 128.17,211.8 128.33,211.6 128.50,210.0 128.67,215.2 128.83,214.0 129.00,209.9 129.17,215.3 129.33,214.1 129.50,215.5 129.67,211.4 129.83,218.4 130.00,214.5 130.17,213.0 130.33,211.8 130.50,212.6 130.67,215.8 130.83,212.5 131.00,216.4 131.17,214.9 131.33,217.1 131.50,215.5 131.67,212.9 131.83,207.3 132.00,213.8 132.17,215.2 132.33,213.3 132.50,214.4 132.67,211.3 132.83,211.5 133.00,209.8 133.17,216.6 133.33,213.0 133.50,211.1 133.67,208.6 133.83,212.1 134.00,216.8 134.17,213.9 134.33,210.4 134.50,216.8 134.67,216.8 134.83,215.5 135.00,214.9 135.17,216.0 135.33,214.1 135.50,214.8 135.67,210.1 135.83,216.9 136.00,213.0 136.17,218.3 136.33,206.1 136.50,214.2 136.67,215.0 136.83,211.0 137.00,213.3 137.17,214.1 137.33,213.5 137.50,210.1 137.67,211.2 137.83,214.6 138.00,215.3 138.17,211.6 138.33,211.5 138.50,211.8 138.67,214.2 138.83,207.9 139.00,207.0 139.17,211.3 139.33,207.6 139.50,209.2 139.67,211.3 139.83,212.5 140.00,208.0 140.17,213.7 140.33,206.1 140.50,213.2 140.67,206.9 140.83,208.0 141.00,213.8 141.17,210.8 141.33,209.7 141.50,210.8 141.67,213.6 141.83,212.0 142.00,212.1 142.17,215.4 142.33,210.0 142.50,210.7 142.67,210.5 142.83,215.6 143.00,215.0 143.17,215.8 143.33,211.8 143.50,211.3 143.67,214.3 143.83,210.5 144.00,214.1 144.17,213.7 144.33,209.4 144.50,211.1 144.67,210.9 144.83,216.4 145.00,218.8 145.17,210.6 145.33,210.8 145.50,203.8 145.67,211.1 145.83,210.3 146.00,206.9 146.17,212.4 146.33,205.1 146.50,209.1 146.67,210.0 146.83,205.7 147.00,211.9 147.17,212.5 147.33,205.1 147.50,204.9 147.67,211.0 147.83,209.0 148.00,205.5 148.17,208.2 148.33,208.8 148.50,208.7 148.67,211.6 148.83,210.2 149.00,214.4 149.17,213.2 149.33,211.1 149.50,212.3 149.67,213.0 149.83,211.1 150.00,205.3 150.17,211.6 150.33,209.2 150.50,213.8 150.67,209.3 150.83,210.6 151.00,210.0 151.17,214.1 151.33,209.7 151.50,208.4 151.67,210.2 151.83,208.0 152.00,209.9 152.17,209.4 152.33,210.3 152.50,215.3 152.67,208.3 152.83,209.6 153.00,208.9 153.17,211.5 153.33,205.9 153.50,207.3 153.67,209.3 153.83,211.0 154.00,209.2 154.17,207.8 154.33,206.7 154.50,210.9 154.67,213.7 154.83,210.4 155.00,210.0 155.17,210.9 155.33,206.8 155.50,208.7 155.67,209.0 155.83,210.7 156.00,209.8 156.17,206.3 156.33,213.4 156.50,215.1 156.67,209.2 156.83,211.1 157.00,210.7 157.17,212.1 157.33,205.2 157.50,214.3 157.67,207.9 157.83,212.9 158.00,209.2 158.17,207.6 158.33,208.2 158.50,211.1 158.67,205.7 158.83,207.0 159.00,206.6 159.17,202.8 159.33,211.9 159.50,209.7 159.67,207.8 159.83,211.4 160.00,205.0 160.17,207.7 160.33,213.1 160.50,210.9 160.67,201.2 160.83,197.8 161.00,204.7 161.17,210.9 161.33,206.2 161.50,206.8 161.67,209.1 161.83,204.5 162.00,207.6 162.17,209.2 162.33,208.0 162.50,207.6 162.67,204.5 162.83,207.7 163.00,204.7 163.17,209.8 163.33,213.5 163.50,203.4 163.67,198.9 163.83,204.1 164.00,206.4 164.17,208.3 164.33,208.3 164.50,202.6 164.67,202.5 164.83,208.7 165.00,201.5 165.17,208.1 165.33,204.1 165.50,207.1 165.67,206.9 165.83,207.1 166.00,207.3 166.17,201.9 166.33,205.8 166.50,204.9 166.67,205.8 166.83,208.6 167.00,204.1 167.17,202.7 167.33,202.6 167.50,203.9 167.67,207.0 167.83,202.3 168.00,208.2 168.17,205.5 168.33,203.9 168.50,200.5 168.67,205.2 168.83,206.6 169.00,199.2 169.17,208.1 169.33,209.5 169.50,205.6 169.67,206.1 169.83,211.9 170.00,208.3 170.17,201.9 170.33,204.6 170.50,204.1 170.67,204.1 170.83,197.4 171.00,206.8 171.17,202.5 171.33,204.8 171.50,203.8 171.67,206.7 171.83,203.1 172.00,201.4 172.17,205.3 172.33,207.8 172.50,202.5 172.67,207.5 172.83,204.1 173.00,201.6 173.17,207.7 173.33,200.6 173.50,206.0 173.67,201.4 173.83,204.3 174.00,199.1 174.17,200.3 174.33,206.1 174.50,203.4 174.67,202.9 174.83,201.5 175.00,204.1 175.17,198.5 175.33,199.3 175.50,202.2 175.67,200.1 175.83,200.4 176.00,202.2 176.17,201.9 176.33,201.5 176.50,207.1 176.67,205.0 176.83,205.5 177.00,201.5 177.17,199.9 177.33,196.9 177.50,200.1 177.67,194.7 177.83,199.1 178.00,203.0 178.17,205.5 178.33,203.4 178.50,197.8 178.67,201.8 178.83,197.9 179.00,202.7 179.17,199.8 179.33,202.7 179.50,207.9 179.67,202.9 179.83,207.2 180.00,200.6 180.17,199.1 180.33,204.2 180.50,205.4 180.67,198.5 180.83,200.4 181.00,195.8 181.17,199.6 181.33,202.9 181.50,199.9 181.67,198.4 181.83,195.8 182.00,201.1 182.17,202.4 182.33,201.7 182.50,200.6 182.67,195.9 182.83,205.0 183.00,199.5 183.17,199.1 183.33,201.7 183.50,192.9 183.67,199.2 183.83,198.9 184.00,200.4 184.17,203.4 184.33,200.7 184.50,193.7 184.67,198.2 184.83,199.8 185.00,199.6 185.17,195.3 185.33,194.1 185.50,200.8 185.67,200.2 185.83,199.1 186.00,193.9 186.17,204.5 186.33,190.3 186.50,198.0 186.67,205.4 186.83,198.5 187.00,199.6 187.17,195.3 187.33,202.9 187.50,194.8 187.67,199.4 187.83,199.0 188.00,195.3 188.17,201.1 188.33,194.0 188.50,196.2 188.67,198.1 188.83,196.9 189.00,199.5 189.17,200.8 189.33,197.1 189.50,196.4 189.67,196.5 189.83,196.9 190.00,200.5 190.17,197.4 190.33,199.3 190.50,197.9 190.67,195.6 190.83,200.8 191.00,195.0 191.17,198.2 191.33,202.7 191.50,194.9 191.67,198.1 191.83,193.4 192.00,196.7 192.17,193.7 192.33,197.1 192.50,196.5 192.67,198.5 192.83,202.9 193.00,198.9 193.17,200.0 193.33,197.8 193.50,197.2 193.67,195.3 193.83,192.4 194.00,198.0 194.17,202.7 194.33,199.2 194.50,196.2 194.67,202.8 194.83,196.5 195.00,196.0 195.17,194.2 195.33,195.0 195.50,197.1 195.67,204.0 195.83,197.2 196.00,194.7 196.17,196.0 196.33,197.0 196.50,192.4 196.67,197.9 196.83,199.5 197.00,198.2 197.17,198.9 197.33,193.0 197.50,191.5 197.67,200.4 197.83,199.6 198.00,191.4 198.17,196.5 198.33,195.7 198.50,197.1 198.67,195.9 198.83,193.6 199.00,195.5 199.17,195.3 199.33,194.6 199.50,189.1 199.67,185.6 199.83,192.3 200.00,189.7 200.17,195.5 200.33,196.9 200.50,195.6 200.67,193.7 200.83,195.1 201.00,198.4 201.17,192.7 201.33,197.7 201.50,197.0 201.67,195.6 201.83,199.2 202.00,192.5 202.17,197.5 202.33,191.7 202.50,192.1 202.67,191.1 202.83,195.5 203.00,191.2 203.17,194.1 203.33,190.4 203.50,197.0 203.67,199.3 203.83,194.3 204.00,198.6 204.17,195.2 204.33,200.1 204.50,193.8 204.67,188.7 204.83,198.0 205.00,193.0 205.17,190.2 205.33,191.3 205.50,188.3 205.67,192.7 205.83,189.9 206.00,197.5 206.17,194.9 206.33,187.8 206.50,188.1 206.67,190.9 206.83,186.7 207.00,192.2 207.17,192.3 207.33,190.1 207.50,190.8 207.67,194.0 207.83,196.8 208.00,197.1 208.17,192.7 208.33,195.3 208.50,190.5 208.67,194.0 208.83,189.9 209.00,195.1 209.17,189.2 209.33,190.1 209.50,193.0 209.67,194.8 209.83,188.7 210.00,191.5 210.17,193.5 210.33,193.8 210.50,190.6 210.67,193.5 210.83,192.4 211.00,197.5 211.17,195.0 211.33,189.3 211.50,186.7 211.67,193.7 211.83,197.0 212.00,194.0 212.17,196.2 212.33,192.0 212.50,189.3 212.67,195.8 212.83,193.8 213.00,195.6 213.17,189.2 213.33,194.0 213.50,191.5 213.67,195.9 213.83,191.6 214.00,191.5 214.17,191.6 214.33,197.2 214.50,193.4 214.67,190.9 214.83,190.0 215.00,189.9 215.17,197.5 215.33,187.4 215.50,190.3 215.67,194.7 215.83,196.3 216.00,192.1 216.17,194.9 216.33,194.7 216.50,195.3 216.67,192.3 216.83,197.1 217.00,192.7 217.17,196.6 217.33,188.5 217.50,194.6 217.67,187.8 217.83,187.0 218.00,193.0 218.17,188.9 218.33,192.7 218.50,188.0 218.67,196.1 218.83,191.1 219.00,187.6 219.17,191.5 219.33,193.6 219.50,188.5 219.67,192.4 219.83,197.1 220.00,193.4 220.17,190.7 220.33,188.9 220.50,192.3 220.67,185.9 220.83,181.1 221.00,188.3 221.17,186.9 221.33,195.4 221.50,190.4 221.67,186.9 221.83,186.3 222.00,191.2 222.17,187.1 222.33,187.8 222.50,189.3 222.67,189.8 222.83,189.8 223.00,189.8 223.17,193.5 223.33,194.7 223.50,184.5 223.67,197.4 223.83,190.0 224.00,193.5 224.17,187.4 224.33,190.7 224.50,190.4 224.67,190.2 224.83,192.4 225.00,191.8 225.17,186.8 225.33,189.5 225.50,192.0 225.67,191.8 225.83,188.7 226.00,188.8 226.17,189.1 226.33,186.1 226.50,185.5 226.67,194.1 226.83,188.0 227.00,189.4 227.17,186.7 227.33,192.8 227.50,194.0 227.67,187.8 227.83,189.9 228.00,185.8 228.17,193.3 228.33,190.5 228.50,184.9 228.67,191.1 228.83,188.1 229.00,188.1 229.17,187.7 229.33,184.4 229.50,184.7 229.67,188.1 229.83,185.9 230.00,183.1 230.17,192.1 230.33,185.2 230.50,184.0 230.67,183.5 230.83,187.7 231.00,188.5 231.17,186.2 231.33,188.0 231.50,180.7 231.67,184.1 231.83,183.8 232.00,185.2 232.17,186.7 232.33,178.9 232.50,194.7 232.67,182.5 232.83,186.3 233.00,187.8 233.17,187.9 233.33,186.1 233.50,176.5 233.67,182.1 233.83,187.7 234.00,182.6 234.17,182.1 234.33,178.0 234.50,188.9 234.67,186.6 234.83,182.1 235.00,184.2 235.17,184.1 235.33,180.7 235.50,183.0 235.67,184.4 235.83,185.0 236.00,186.9 236.17,182.8 236.33,181.1 236.50,183.5 236.67,180.1 236.83,178.0 237.00,185.2 237.17,180.4 237.33,181.8 237.50,183.4 237.67,178.0 237.83,183.4 238.00,182.9 238.17,181.3 238.33,182.8 238.50,179.4 238.67,175.0 238.83,181.0 239.00,179.1 239.17,184.6 239.33,182.8 239.50,180.4 239.67,182.1 239.83,186.1 240.00,185.4 240.17,183.0 240.33,183.2 240.50,180.9 240.67,181.3 240.83,183.5 241.00,181.2 241.17,182.5 241.33,178.1 241.50,176.4 241.67,176.3 241.83,180.1 242.00,185.5 242.17,185.0 242.33,178.3 242.50,176.6 242.67,183.8 242.83,182.7 243.00,177.0 243.17,184.4 243.33,181.6 243.50,185.0 243.67,181.9 243.83,183.5 244.00,181.7 244.17,177.7 244.33,179.9 244.50,178.5 244.67,183.1 244.83,177.5 245.00,175.9 245.17,182.7 245.33,184.2 245.50,185.2 245.67,184.2 245.83,176.3 246.00,178.8 246.17,179.3 246.33,180.9 246.50,174.4 246.67,181.0 246.83,181.9 247.00,178.0 247.17,181.3 247.33,184.5 247.50,180.9 247.67,184.0 247.83,183.8 248.00,181.9 248.17,181.7 248.33,179.4 248.50,184.3 248.67,179.0 248.83,178.3 249.00,182.6 249.17,178.1 249.33,181.7 249.50,183.6 249.67,180.6 249.83,180.7 250.00,183.1 250.17,182.6 250.33,175.5 250.50,176.2 250.67,184.2 250.83,181.2 251.00,173.5 251.17,175.7 251.33,179.8 251.50,176.6 251.67,180.9 251.83,179.6 252.00,180.8 252.17,175.6 252.33,181.0 252.50,185.0 252.67,176.5 252.83,182.9 253.00,181.8 253.17,180.7 253.33,178.4 253.50,175.0 253.67,175.8 253.83,180.8 254.00,181.4 254.17,182.2 254.33,181.4 254.50,181.2 254.67,177.2 254.83,174.9 255.00,179.3 255.17,180.3 255.33,179.1 255.50,174.3 255.67,177.5 255.83,174.7 256.00,179.8 256.17,176.2 256.33,179.1 256.50,180.7 256.67,180.2 256.83,184.2 257.00,176.7 257.17,173.5 257.33,183.3 257.50,184.9 257.67,185.1 257.83,181.7 258.00,182.7 258.17,181.6 258.33,177.4 258.50,179.8 258.67,183.2 258.83,180.0 259.00,187.7 259.17,177.2 259.33,180.6 259.50,185.4 259.67,180.1 259.83,178.4 260.00,177.7 260.17,179.6 260.33,186.4 260.50,183.0 260.67,183.3 260.83,180.1 261.00,184.3 261.17,182.0 261.33,178.9 261.50,180.4 261.67,182.5 261.83,185.5 262.00,181.9 262.17,183.7 262.33,188.5 262.50,179.9 262.67,178.7 262.83,185.7 263.00,184.1 263.17,182.6 263.33,183.8 263.50,182.0 263.67,184.7 263.83,182.2 264.00,185.7 264.17,179.7 264.33,180.9 264.50,183.8 264.67,182.1 264.83,185.7 265.00,183.5 265.17,182.0 265.33,184.4 265.50,182.1 265.67,179.0 265.83,180.4 266.00,181.4 266.17,182.5 266.33,184.3 266.50,186.8 266.67,185.8 266.83,189.6 267.00,188.1 267.17,183.7 267.33,189.4 267.50,188.0 267.67,183.1 267.83,185.5 268.00,188.0 268.17,185.5 268.33,187.9 268.50,186.1 268.67,187.1 268.83,184.0 269.00,186.3 269.17,184.0 269.33,187.3 269.50,180.1 269.67,186.4 269.83,189.3 270.00,187.2 270.17,185.4 270.33,187.2 270.50,183.0 270.67,183.2 270.83,184.7 271.00,185.4 271.17,189.0 271.33,183.3 271.50,189.3 271.67,181.5 271.83,184.0 272.00,186.4 272.17,190.2 272.33,184.8 272.50,180.1 272.67,188.1 272.83,186.8 273.00,183.5 273.17,183.7 273.33,184.7 273.50,187.2 273.67,188.9 273.83,182.3 274.00,193.9 274.17,186.7 274.33,185.6 274.50,188.8 274.67,187.0 274.83,193.9 275.00,190.0 275.17,185.5 275.33,185.3 275.50,185.0 275.67,185.4 275.83,188.5 276.00,184.4 276.17,191.3 276.33,186.1 276.50,185.9 276.67,189.3 276.83,180.2 277.00,183.5 277.17,188.3 277.33,186.5 277.50,186.5 277.67,187.8 277.83,184.8 278.00,186.2 278.17,182.6 278.33,181.0 278.50,190.7 278.67,184.0 278.83,184.6 279.00,191.1 279.17,190.1 279.33,185.2 279.50,185.1 279.67,186.5 279.83,183.8 280.00,188.4 280.17,187.2 280.33,187.1 280.50,189.1 280.67,189.0 280.83,192.5 281.00,191.6 281.17,181.7 281.33,189.9 281.50,183.8 281.67,183.0 281.83,189.8 282.00,185.6 282.17,187.0 282.33,191.4 282.50,186.3 282.67,185.8 282.83,189.7 283.00,192.7 283.17,190.7 283.33,184.5 283.50,187.5 283.67,189.2 283.83,195.8 284.00,192.7 284.17,192.8 284.33,194.0 284.50,189.5 284.67,192.1 284.83,192.3 285.00,187.9 285.17,191.1 285.33,193.0 285.50,188.1 285.67,194.0 285.83,194.0 286.00,195.0 286.17,189.5 286.33,192.3 286.50,196.6 286.67,194.6 286.83,189.8 287.00,193.0 287.17,196.8 287.33,192.3 287.50,193.8 287.67,200.6 287.83,192.7 288.00,192.6 288.17,190.0 288.33,191.2 288.50,198.0 288.67,193.1 288.83,190.0 289.00,191.0 289.17,194.0 289.33,196.5 289.50,191.9 289.67,196.5 289.83,192.9 290.00,195.5 290.17,196.1 290.33,196.3 290.50,193.1 290.67,194.0 290.83,196.1 291.00,190.5 291.17,195.1 291.33,196.2 291.50,197.9 291.67,194.6 291.83,194.2 292.00,195.2 292.17,192.6 292.33,194.3 292.50,196.2 292.67,195.9 292.83,191.8 293.00,194.0 293.17,188.4 293.33,197.5 293.50,193.3 293.67,195.6 293.83,191.4 294.00,194.5 294.17,196.1 294.33,197.7 294.50,190.4 294.67,197.1 294.83,194.0 295.00,192.1 295.17,196.0 295.33,193.6 295.50,193.6 295.67,192.4 295.83,195.3 296.00,194.8 296.17,194.1 296.33,191.8 296.50,193.2" stroke="#000000" stroke-width="1.1"/>
</g>
<g stroke="#000" stroke-width="1.0"><line x1="190.1" y1="63.2" x2="213.7" y2="77.4"/><line x1="165.8" y1="104.4" x2="213.7" y2="133.3"/><line x1="141.3" y1="137.3" x2="224.4" y2="184.0"/></g>
<g stroke="#000" stroke-width="1.5" fill="none">
<rect x="36.0" y="3.2" width="285.70" height="234.20"/>
<line x1="36.00" y1="237.40" x2="36.00" y2="241.90"/><line x1="61.97" y1="237.40" x2="61.97" y2="239.80"/><line x1="87.95" y1="237.40" x2="87.95" y2="241.90"/><line x1="113.92" y1="237.40" x2="113.92" y2="239.80"/><line x1="139.89" y1="237.40" x2="139.89" y2="241.90"/><line x1="165.86" y1="237.40" x2="165.86" y2="239.80"/><line x1="191.84" y1="237.40" x2="191.84" y2="241.90"/><line x1="217.81" y1="237.40" x2="217.81" y2="239.80"/><line x1="243.78" y1="237.40" x2="243.78" y2="241.90"/><line x1="269.75" y1="237.40" x2="269.75" y2="239.80"/><line x1="295.73" y1="237.40" x2="295.73" y2="241.90"/><line x1="321.70" y1="237.40" x2="321.70" y2="239.80"/><line x1="31.20" y1="3.20" x2="36.00" y2="3.20"/><line x1="31.20" y1="32.48" x2="36.00" y2="32.48"/><line x1="31.20" y1="61.75" x2="36.00" y2="61.75"/><line x1="31.20" y1="91.03" x2="36.00" y2="91.03"/><line x1="31.20" y1="120.30" x2="36.00" y2="120.30"/><line x1="31.20" y1="149.57" x2="36.00" y2="149.57"/><line x1="31.20" y1="178.85" x2="36.00" y2="178.85"/><line x1="31.20" y1="208.12" x2="36.00" y2="208.12"/><line x1="31.20" y1="237.40" x2="36.00" y2="237.40"/>
</g>
<text x="36.30" y="251.6" text-anchor="middle" class="tl">300</text><text x="88.25" y="251.6" text-anchor="middle" class="tl">400</text><text x="140.19" y="251.6" text-anchor="middle" class="tl">500</text><text x="192.14" y="251.6" text-anchor="middle" class="tl">600</text><text x="244.08" y="251.6" text-anchor="middle" class="tl">700</text><text x="296.03" y="251.6" text-anchor="middle" class="tl">800</text>
<text x="156.5" y="62.8" class="an" textLength="37.23" lengthAdjust="spacingAndGlyphs">Dev_A</text>
<text x="128.1" y="99" class="an" textLength="38.96" lengthAdjust="spacingAndGlyphs">Dev_B</text>
<text x="103.9" y="134.3" class="an" textLength="38.85" lengthAdjust="spacingAndGlyphs">Dev_C</text>
<text x="239.4" y="21.2" class="an" textLength="37.9" lengthAdjust="spacingAndGlyphs">705 nm</text>
<text x="126.6" y="272.7" class="ax" textLength="117.61" lengthAdjust="spacingAndGlyphs">Wavelength (nm)</text>
<text transform="translate(13.2,196.5) rotate(-90)" class="ax" textLength="163" lengthAdjust="spacingAndGlyphs">EL Intensity (arb. units)</text>
</svg>
</body></html>
